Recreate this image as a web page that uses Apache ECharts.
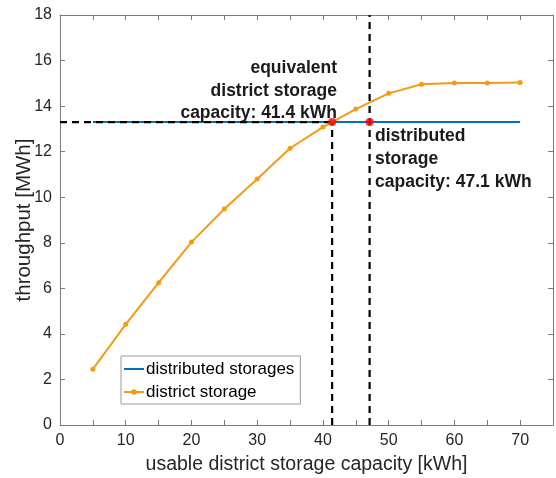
<!DOCTYPE html>
<html>
<head>
<meta charset="utf-8">
<script src="https://cdn.jsdelivr.net/npm/echarts@6/dist/echarts.min.js"></script>
<style>
html,body{margin:0;padding:0;background:#fff;}
#c{width:556px;height:478px;}
</style>
</head>
<body>
<div id="c"></div>
<script>
// ---- data ----
const capacities = [5,10,15,20,25,30,35,40,45,50,55,60,65,70];
const districtThroughput = [2.45,4.42,6.25,8.03,9.48,10.8,12.15,13.08,13.87,14.56,14.96,15.02,15.02,15.04];
const distributedThroughput = 13.3;
const equivalentCapacity = 41.4;
const distributedCapacity = 47.1;
const xTicks = [0,10,20,30,40,50,60,70];
const yTicks = [0,2,4,6,8,10,12,14,16,18];
const seriesNames = ['distributed storages','district storage'];
const annotation1 = ['equivalent','district storage','capacity: ' + equivalentCapacity + ' kWh'];
const annotation2 = ['distributed','storage','capacity: ' + distributedCapacity + ' kWh'];

const X_MAX = 75, Y_MAX = 18;
const FONT = '"Liberation Sans", Arial, sans-serif';
const AX = '#262626';
const BLUE = '#0072BD';
const ORANGE = '#F39B16';

const chart = echarts.init(document.getElementById('c'), null, {renderer:'canvas'});

const distributedLine = [[capacities[0], distributedThroughput],[capacities[capacities.length-1], distributedThroughput]];
const districtLine = capacities.map((c,i)=>[c, districtThroughput[i]]);
const dashStyle = {color:'#000', width:2.2, type:[7,5]};

const axisCommon = {
  axisLine:{show:true, onZero:false, lineStyle:{color:'#7a7a7a', width:1}},
  axisTick:{show:true, inside:true, length:5, lineStyle:{color:'#7a7a7a'}},
  splitLine:{show:false}
};

chart.setOption({
  animation:false,
  backgroundColor:'#fff',
  grid:{left:60, right:3, top:15, bottom:53, containLabel:false, outerBoundsMode:'none'},
  legend:{
    left:121, top:356, orient:'vertical',
    data:[{name:seriesNames[0], itemStyle:{opacity:0}},{name:seriesNames[1]}],
    itemWidth:20, itemHeight:7, itemGap:3,
    padding:[3,6,2,2],
    borderColor:'#9a9a9a', borderWidth:1, backgroundColor:'#fff',
    textStyle:{fontFamily:FONT, fontSize:17, color:'#000', lineHeight:20, padding:[0,0,0,-3]}
  },
  xAxis:[
    Object.assign({}, axisCommon, {
      type:'value', min:0, max:X_MAX, interval:10, position:'bottom',
      minorTick:{show:true, splitNumber:2, length:5, lineStyle:{color:'#7a7a7a'}},
      axisLabel:{fontFamily:FONT, fontSize:16, color:AX, margin:8,
        formatter:v=> xTicks.indexOf(v) >= 0 ? String(v) : ''},
      name:'usable district storage capacity [kWh]', nameLocation:'middle', nameGap:30,
      nameMoveOverlap:false,
      nameTextStyle:{fontFamily:FONT, fontSize:19.5, color:AX}
    }),
    Object.assign({}, axisCommon, {
      type:'value', min:0, max:X_MAX, interval:10, position:'top',
      minorTick:{show:true, splitNumber:2, length:5, lineStyle:{color:'#7a7a7a'}},
      axisLabel:{show:false}
    })
  ],
  yAxis:[
    Object.assign({}, axisCommon, {
      type:'value', min:0, max:Y_MAX, interval:2, position:'left',
      axisLabel:{fontFamily:FONT, fontSize:16, color:AX, margin:8,
        formatter:v=> yTicks.indexOf(v) >= 0 ? String(v) : ''},
      name:'throughput [MWh]', nameLocation:'middle', nameGap:25, nameRotate:90,
      nameMoveOverlap:false,
      nameTextStyle:{fontFamily:FONT, fontSize:20.5, color:AX}
    }),
    Object.assign({}, axisCommon, {
      type:'value', min:0, max:Y_MAX, interval:2, position:'right',
      axisLabel:{show:false}
    })
  ],
  series:[
    {name:seriesNames[0], type:'line', data:distributedLine, showSymbol:false, symbol:'none',
     lineStyle:{color:BLUE, width:2}, itemStyle:{color:BLUE}, z:2},
    {name:'dash-h', type:'line', data:[[0,distributedThroughput],[equivalentCapacity,distributedThroughput]],
     symbol:'none', lineStyle:dashStyle, z:3, silent:true},
    {name:'dash-v1', type:'line', data:[[equivalentCapacity,0],[equivalentCapacity,distributedThroughput]],
     symbol:'none', lineStyle:dashStyle, z:3, silent:true},
    {name:'dash-v2', type:'line', data:[[distributedCapacity,0],[distributedCapacity,Y_MAX]],
     symbol:'none', lineStyle:dashStyle, z:3, silent:true},
    {name:seriesNames[1], type:'line', data:districtLine, symbol:'circle', symbolSize:5,
     showAllSymbol:true,
     lineStyle:{color:ORANGE, width:2}, itemStyle:{color:ORANGE}, z:4},
    {name:'points', type:'scatter', data:[[equivalentCapacity,distributedThroughput],[distributedCapacity,distributedThroughput]],
     symbolSize:8, itemStyle:{color:'#FF0000'}, z:5, silent:true}
  ],
  graphic:[
    {type:'text', x:337, y:57, z:10, style:{
      text:annotation1.join('\n'), fontFamily:FONT, fontSize:17.5, fontWeight:'bold',
      fill:'#1a1a1a', align:'right', verticalAlign:'top', lineHeight:22.5}},
    {type:'text', x:375, y:124.5, z:10, style:{
      text:annotation2.join('\n'), fontFamily:FONT, fontSize:17.5, fontWeight:'bold',
      fill:'#1a1a1a', align:'left', verticalAlign:'top', lineHeight:23}}
  ]
});
</script>
</body>
</html>
